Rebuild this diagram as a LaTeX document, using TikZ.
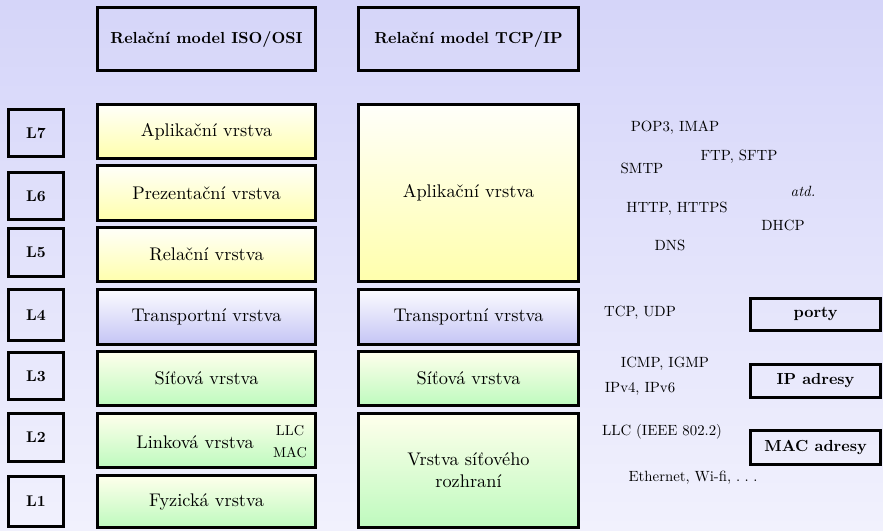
\documentclass[tikz,border=0pt]{standalone}
\usepackage{fontspec}
\setmainfont{lmroman10-regular.otf}[BoldFont=lmroman10-bold.otf, ItalicFont=lmroman10-italic.otf, BoldItalicFont=lmroman10-bolditalic.otf]
\definecolor{bgtop}{RGB}{213,213,249}
\definecolor{bgbot}{RGB}{241,241,253}
\definecolor{apptop}{RGB}{255,255,250}
\definecolor{appbot}{RGB}{255,255,172}
\definecolor{trtop}{RGB}{252,252,255}
\definecolor{trbot}{RGB}{196,196,245}
\definecolor{nettop}{RGB}{255,255,236}
\definecolor{netbot}{RGB}{190,250,190}
\tikzset{
  frame/.style={draw=black, line width=3pt, rectangle, inner sep=0pt, align=center},
  head/.style={frame, font=\fontsize{16}{20}\selectfont\bfseries},
  lvl/.style={frame, minimum width=55pt, font=\fontsize{15.5}{19}\selectfont\bfseries},
  iso/.style={frame, minimum width=218pt, font=\fontsize{18.3}{22}\selectfont},
  tcp/.style={frame, minimum width=220pt, font=\fontsize{18.3}{22}\selectfont},
  appfill/.style={top color=apptop, bottom color=appbot},
  trfill/.style={top color=trtop, bottom color=trbot},
  netfill/.style={top color=nettop, bottom color=netbot},
  tag/.style={frame, minimum width=130pt, font=\fontsize{16}{20}\selectfont\bfseries},
  proto/.style={inner sep=0pt, font=\fontsize{14.8}{18}\selectfont},
  sub/.style={inner sep=0pt, font=\fontsize{14.3}{17}\selectfont}
}
\begin{document}
\begin{tikzpicture}[x=1pt, y=-1pt]
  % background
  \useasboundingbox (0,0) rectangle (883,530);
  \shade[top color=bgtop, bottom color=bgbot] (0,0) rectangle (883,530);

  % column headings
  \node[head, minimum width=218pt, minimum height=63pt] (hiso) at (206.5,39) {Relační model ISO/OSI};
  \node[head, minimum width=220pt, minimum height=63pt] (htcp) at (468.5,39) {Relační model TCP/IP};

  % layer numbers
  \node[lvl, minimum height=47pt] (l7) at (36,133) {L7};
  \node[lvl, minimum height=47pt] (l6) at (36,196) {L6};
  \node[lvl, minimum height=48pt] (l5) at (36,252.5) {L5};
  \node[lvl, minimum height=51pt] (l4) at (36,315) {L4};
  \node[lvl, minimum height=47pt] (l3) at (36,376) {L3};
  \node[lvl, minimum height=48pt] (l2) at (36,437.5) {L2};
  \node[lvl, minimum height=50pt] (l1) at (36,501.5) {L1};

  % ISO/OSI layers
  \node[iso, appfill, minimum height=54pt] (i7) at (206.5,131.5) {Aplikační vrstva};
  \node[iso, appfill, minimum height=55pt] (i6) at (206.5,193) {Prezentační vrstva};
  \node[iso, appfill, minimum height=54pt] (i5) at (206.5,254.5) {Relační vrstva};
  \node[iso, trfill, minimum height=55pt] (i4) at (206.5,317) {Transportní vrstva};
  \node[iso, netfill, minimum height=54pt] (i3) at (206.5,378.5) {Síťová vrstva};
  \node[iso, netfill, minimum height=54pt] (i2) at (206.5,440.5) {};
  \node[iso, netfill, minimum height=52pt] (i1) at (206.5,501.5) {Fyzická vrstva};
  \node[inner sep=0pt, font=\fontsize{18.3}{22}\selectfont] (i2t) at (195,442) {Linková vrstva};
  \node[sub] (llc) at (290,431) {LLC};
  \node[sub] (mac) at (290,453) {MAC};

  % TCP/IP layers
  \node[tcp, appfill, minimum height=177pt] (t4) at (468.5,193) {Aplikační vrstva};
  \node[tcp, trfill, minimum height=55pt] (t3) at (468.5,317) {Transportní vrstva};
  \node[tcp, netfill, minimum height=54pt] (t2) at (468.5,378.5) {Síťová vrstva};
  \node[tcp, netfill, minimum height=114pt] (t1) at (468.5,470.5) {Vrstva síťového\\rozhraní};

  % protocols
  \node[proto] (pop) at (675,128) {POP3, IMAP};
  \node[proto] (ftp) at (739,157) {FTP, SFTP};
  \node[proto] (smtp) at (642,168) {SMTP};
  \node[proto] (atd) at (803,191) {\itshape atd.};
  \node[proto] (http) at (677,209) {HTTP, HTTPS};
  \node[proto] (dhcp) at (783,225) {DHCP};
  \node[proto] (dns) at (670,245) {DNS};
  \node[proto] (tcpudp) at (640,313) {TCP, UDP};
  \node[proto] (icmp) at (665,364) {ICMP, IGMP};
  \node[proto] (ipv) at (640,389) {IPv4, IPv6};
  \node[proto] (llcieee) at (662,432) {LLC (IEEE 802.2)};
  \node[proto] (eth) at (693,478) {Ethernet, Wi-fi, .\hspace{0.3em}.\hspace{0.3em}.};

  % addressing
  \node[tag, minimum height=32pt] (porty) at (815.5,314.5) {porty};
  \node[tag, minimum height=33pt] (ipa) at (815.5,381) {IP adresy};
  \node[tag, minimum height=34pt] (maca) at (815.5,447.5) {MAC adresy};
\end{tikzpicture}
\end{document}
